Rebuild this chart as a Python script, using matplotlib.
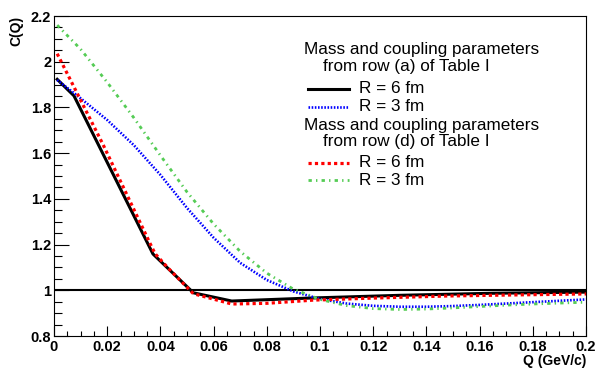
import numpy as np
import matplotlib.pyplot as plt
from matplotlib.ticker import MultipleLocator

plt.rcParams['font.family'] = ['Liberation Sans', 'DejaVu Sans']

# row (a), R = 6 fm
q_a6 = [0.0012, 0.0075, 0.0372, 0.0524, 0.0668, 0.0962, 0.13, 0.165, 0.2]
c_a6 = [1.923, 1.851, 1.159, 0.989, 0.953, 0.966, 0.978, 0.987, 0.992]
# row (a), R = 3 fm
q_a3 = [0.0012, 0.01, 0.02, 0.03, 0.04, 0.05, 0.06, 0.07, 0.08, 0.09, 0.10,
        0.11, 0.12, 0.13, 0.14, 0.15, 0.16, 0.17, 0.18, 0.19, 0.20]
c_a3 = [1.92, 1.84, 1.745, 1.635, 1.505, 1.36, 1.23, 1.12, 1.045, 0.995, 0.962,
        0.942, 0.932, 0.928, 0.928, 0.931, 0.936, 0.942, 0.948, 0.954, 0.96]
# row (d), R = 6 fm
q_d6 = [0.0012, 0.0185, 0.0361, 0.038, 0.043, 0.0524, 0.0668, 0.08, 0.0975,
        0.12, 0.1476, 0.175, 0.2]
c_d6 = [2.035, 1.636, 1.205, 1.16, 1.096, 0.985, 0.94, 0.943, 0.957,
        0.966, 0.975, 0.98, 0.984]
# row (d), R = 3 fm
q_d3 = [0.0012, 0.01, 0.02, 0.03, 0.04, 0.05, 0.06, 0.07, 0.08, 0.09, 0.10,
        0.11, 0.12, 0.13, 0.14, 0.15, 0.16, 0.17, 0.18, 0.19, 0.20]
c_d3 = [2.16, 2.055, 1.91, 1.755, 1.59, 1.43, 1.29, 1.17, 1.075, 1.005, 0.96,
        0.933, 0.92, 0.916, 0.918, 0.923, 0.929, 0.935, 0.94, 0.944, 0.948]

green = '#55cc55'
blue_ls = (0, (0.6, 0.6))
red_ls = (0, (1, 1))
green_ls = (0, (1.2, 1.5, 0.5, 1.5))

fig = plt.figure(figsize=(6, 3.75), dpi=100)
ax = fig.add_axes([0.09, 0.104, 0.8867, 0.8533])

ax.axhline(1.0, color='black', lw=1.5)
ax.plot(q_a6, c_a6, color='black', lw=2.2)
ax.plot(q_a3, c_a3, color='#0000ff', lw=1.9, linestyle=blue_ls)
ax.plot(q_d6, c_d6, color='#ff0000', lw=2.3, linestyle=red_ls, dash_capstyle='butt')
ax.plot(q_d3, c_d3, color=green, lw=2.0, linestyle=green_ls)

ax.set_xlim(0, 0.2)
ax.set_ylim(0.8, 2.2)
ax.xaxis.set_major_locator(MultipleLocator(0.02))
ax.xaxis.set_minor_locator(MultipleLocator(0.005))
ax.yaxis.set_major_locator(MultipleLocator(0.2))
ax.yaxis.set_minor_locator(MultipleLocator(0.05))
ax.xaxis.set_major_formatter(plt.FuncFormatter(lambda v, p: f'{v:g}'))
ax.yaxis.set_major_formatter(plt.FuncFormatter(lambda v, p: f'{v:g}'))
ax.tick_params(axis='both', which='both', direction='in', top=False, right=False,
               labelsize=10.5, width=0.8)
ax.tick_params(axis='y', which='major', length=11, pad=2)
ax.tick_params(axis='y', which='minor', length=5.5)
ax.tick_params(axis='x', which='major', length=7, pad=3)
ax.tick_params(axis='x', which='minor', length=3.5)
for lab in ax.get_xticklabels() + ax.get_yticklabels():
    lab.set_fontweight('bold')
for sp in ax.spines.values():
    sp.set_linewidth(0.8)

ax.set_xlabel('Q (GeV/c)', fontsize=10, fontweight='bold', loc='right', labelpad=0)
ax.set_ylabel('C(Q)', fontsize=10, fontweight='bold', loc='top', labelpad=5)

# legend drawn ROOT style
tr = ax.transAxes
fs = 12.3
ax.text(0.47, 0.894, 'Mass and coupling parameters', transform=tr, fontsize=fs, va='center')
ax.text(0.5056, 0.841, 'from row (a) of Table I', transform=tr, fontsize=fs, va='center')
ax.text(0.5733, 0.772, 'R = 6 fm', transform=tr, fontsize=fs, va='center')
ax.text(0.5733, 0.716, 'R = 3 fm', transform=tr, fontsize=fs, va='center')
ax.text(0.47, 0.659, 'Mass and coupling parameters', transform=tr, fontsize=fs, va='center')
ax.text(0.5056, 0.609, 'from row (d) of Table I', transform=tr, fontsize=fs, va='center')
ax.text(0.5733, 0.541, 'R = 6 fm', transform=tr, fontsize=fs, va='center')
ax.text(0.5733, 0.4875, 'R = 3 fm', transform=tr, fontsize=fs, va='center')
lx = [0.4774, 0.5545]
ax.plot(lx, [0.772, 0.772], transform=tr, color='black', lw=2.2)
ax.plot(lx, [0.716, 0.716], transform=tr, color='#0000ff', lw=1.9, linestyle=blue_ls)
ax.plot(lx, [0.541, 0.541], transform=tr, color='#ff0000', lw=2.3, linestyle=red_ls, dash_capstyle='butt')
ax.plot(lx, [0.4875, 0.4875], transform=tr, color=green, lw=2.0, linestyle=green_ls)

fig.savefig('out.png', dpi=100)
